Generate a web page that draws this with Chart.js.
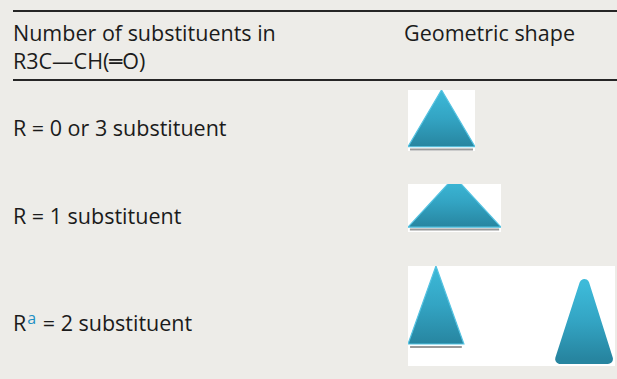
<!DOCTYPE html>
<html>
<head>
<meta charset="utf-8">
<script src="https://cdn.jsdelivr.net/npm/chart.js@4.4.1/dist/chart.umd.min.js"></script>
<style>
  html, body { margin: 0; padding: 0; }
  body {
    width: 617px; height: 379px; position: relative; overflow: hidden;
    background: #edece8; color: #1b1b1b;
    font-family: "Open Sans", "DejaVu Sans", sans-serif; font-size: 21.5px;
  }
  .rule { position: absolute; left: 13px; width: 604px; background: #262626; }
  .txt { position: absolute; white-space: nowrap; line-height: 20px; }
  .txt sup { color: #1c8fc4; font-size: 16px; vertical-align: 0; position: relative; top: -7px; margin: 0 1px; }
  .box { position: absolute; background: #fff; }
  .box canvas { display: block; }
</style>
</head>
<body>
<div class="rule" style="top:10px;height:2px"></div>
<div class="rule" style="top:79px;height:2px"></div>
<div id="table"></div>

<script>
// table text
const headerLeft = ["Number of substituents in", "R3C\u2014CH(\u2550O)"]
const headerRight = ["Geometric shape"]
const rowLabels = ["R = 0 or 3 substituent", "R = 1 substituent", "R = 2 substituent"]
const rowNotes = ["", "", "a"]

// shape outlines, in units of their white box (0..1, y up)
// each path starts and ends mid-base so every corner is a join
const triUpX = [0.5, 1, 0.5, 0, 0.5]
const triUpY = [0.07, 0.07, 1.0, 0.07, 0.07]
const triWideX = [0.5, 1, 0.5, 0, 0.5]
const triWideY = [0.1, 0.1, 1.15, 0.1, 0.1]
const triTallX = [0.135, 0.27, 0.135, 0, 0.135]
const triTallY = [0.22, 0.22, 1.0, 0.22, 0.22]
const triRoundX = [0.85, 0.966, 0.852, 0.735, 0.85]
const triRoundY = [0.07, 0.07, 0.82, 0.07, 0.07]

// grey shadow under the base
const shadowUpX = [0.03, 0.97]
const shadowUpY = [0.025, 0.025]
const shadowWideX = [0.02, 0.98]
const shadowWideY = [0.05, 0.05]
const shadowTallX = [0.01, 0.26]
const shadowTallY = [0.19, 0.19]

// --- text ---
const table = document.getElementById("table")
function addText(str, left, top, note) {
  const d = document.createElement("div")
  d.className = "txt"
  d.style.left = left + "px"
  d.style.top = top + "px"
  if (note) {
    d.innerHTML = str.replace("R ", "R<sup>" + note + "</sup> ")
  } else {
    d.textContent = str
  }
  table.appendChild(d)
}
addText(headerLeft[0], 13, 23)
addText(headerLeft[1], 13, 51)
addText(headerRight[0], 404, 23)
const rowTops = [118, 206, 313]
rowLabels.forEach((l, i) => addText(l, 13, rowTops[i], rowNotes[i]))

// --- shapes ---
function pts(xs, ys) {
  return xs.map((x, i) => ({ x: x, y: ys[i] }))
}

function tealFill(ys) {
  return (ctx) => {
    const chart = ctx.chart
    if (!chart.chartArea) return "#2fa0c0"
    const y = chart.scales.y
    const top = y.getPixelForValue(Math.max(...ys))
    const bottom = y.getPixelForValue(Math.min(...ys))
    const g = chart.ctx.createLinearGradient(0, top, 0, bottom)
    g.addColorStop(0, "#3dbad9")
    g.addColorStop(0.5, "#33a4c3")
    g.addColorStop(1, "#2785a0")
    return g
  }
}

function triangle(xs, ys, rounded) {
  return {
    data: pts(xs, ys),
    showLine: true,
    fill: "shape",
    backgroundColor: tealFill(ys),
    borderColor: rounded ? tealFill(ys) : "#55c3e2",
    borderWidth: rounded ? 10 : 1.2,
    borderJoinStyle: rounded ? "round" : "miter",
    pointRadius: 0
  }
}

function shadow(xs, ys) {
  return {
    data: pts(xs, ys),
    showLine: true,
    fill: false,
    borderColor: "#9a9a9a",
    borderWidth: 2,
    pointRadius: 0
  }
}

function drawBox(left, top, w, h, datasets) {
  const box = document.createElement("div")
  box.className = "box"
  box.style.left = left + "px"
  box.style.top = top + "px"
  box.style.width = w + "px"
  box.style.height = h + "px"
  const canvas = document.createElement("canvas")
  canvas.width = w
  canvas.height = h
  box.appendChild(canvas)
  document.body.appendChild(box)

  new Chart(canvas, {
    type: "scatter",
    data: { datasets: datasets },
    options: {
      responsive: false,
      animation: false,
      devicePixelRatio: 1,
      layout: { padding: 0 },
      plugins: { legend: { display: false }, tooltip: { enabled: false } },
      scales: {
        x: { type: "linear", display: false, min: 0, max: 1 },
        y: { type: "linear", display: false, min: 0, max: 1 }
      }
    }
  })
}

drawBox(408, 90, 67, 61, [shadow(shadowUpX, shadowUpY), triangle(triUpX, triUpY)])
drawBox(408, 184, 93, 48, [shadow(shadowWideX, shadowWideY), triangle(triWideX, triWideY)])
drawBox(408, 266, 207, 100, [
  shadow(shadowTallX, shadowTallY),
  triangle(triTallX, triTallY),
  triangle(triRoundX, triRoundY, true)
])
</script>
</body>
</html>
